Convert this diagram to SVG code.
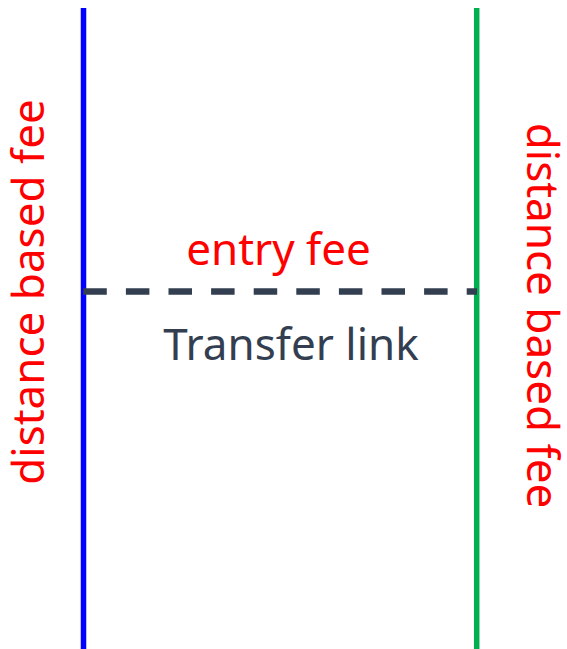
<svg xmlns="http://www.w3.org/2000/svg" width="567" height="649" viewBox="0 0 567 649">
<style>
.red{fill:#ff0000;font-family:"Noto Sans","DejaVu Sans",sans-serif;font-size:44px;text-anchor:middle}
.dark{fill:#333f50;font-family:"Noto Sans","DejaVu Sans",sans-serif;font-size:44px;text-anchor:middle}
</style>
<rect width="567" height="649" fill="#ffffff"/>
<g id="line-blue"><line x1="83.5" y1="8" x2="83.5" y2="649" stroke="#0000ff" stroke-width="5.5"/></g>
<g id="line-green"><line x1="476.7" y1="8" x2="476.7" y2="649" stroke="#00b050" stroke-width="5.5"/></g>
<g id="connectors">
<line x1="83.3" y1="291.5" x2="477" y2="291.5" stroke="#333f50" stroke-width="6.5" stroke-dasharray="23.5 19.1"/>
</g>
<g id="labels">
<text class="red" x="278.5" y="265">entry fee</text>
<text class="dark" x="291" y="360">Transfer link</text>
<text class="red" transform="translate(44,292) rotate(-90)">distance based fee</text>
<text class="red" transform="translate(527,315.5) rotate(90)">distance based fee</text>
</g>
</svg>
